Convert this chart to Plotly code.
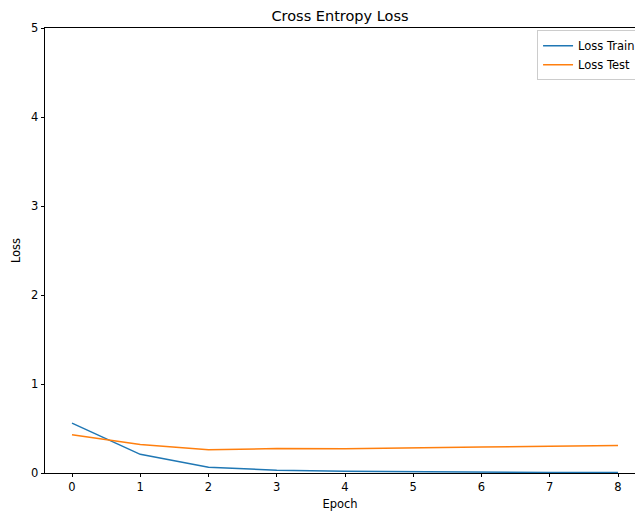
import plotly.graph_objects as go

epochs = [0, 1, 2, 3, 4, 5, 6, 7, 8]
loss_train = [0.56, 0.21, 0.064, 0.032, 0.02, 0.013, 0.009, 0.007, 0.006]
loss_test = [0.43, 0.32, 0.26, 0.275, 0.272, 0.285, 0.293, 0.30, 0.308]
x_ticks = [0, 1, 2, 3, 4, 5, 6, 7, 8]
y_ticks = [0, 1, 2, 3, 4, 5]

font = "DejaVu Sans"
fig = go.Figure()
fig.add_trace(go.Scatter(x=epochs, y=loss_train, mode="lines", name="Loss Train",
                         line=dict(color="#1f77b4", width=1.5)))
fig.add_trace(go.Scatter(x=epochs, y=loss_test, mode="lines", name="Loss Test",
                         line=dict(color="#ff7f0e", width=1.5)))

fig.update_layout(
    width=635, height=515, autosize=False,
    margin=dict(l=45, r=0, t=28, b=42, autoexpand=False),
    paper_bgcolor="white", plot_bgcolor="white",
    font=dict(family=font, size=11.5, color="black"),
    title=dict(text="Cross Entropy Loss", x=0.5, xref="paper", xanchor="center",
               y=1, yref="paper", yanchor="bottom", pad=dict(b=7),
               font=dict(family=font, size=14.5, color="black")),
    legend=dict(x=0.834, y=0.995, xanchor="left", yanchor="top",
                bgcolor="rgba(255,255,255,0.8)", bordercolor="#cccccc", borderwidth=1,
                font=dict(family=font, size=11.5, color="black"), itemwidth=30,
                tracegroupgap=0),
    showlegend=True,
)
fig.update_xaxes(
    range=[-0.3956, 8.249], tickvals=x_ticks, ticktext=[str(t) for t in x_ticks],
    showgrid=False, zeroline=False, showline=True, linecolor="black", linewidth=0.8,
    mirror=True, ticks="outside", ticklen=3.5, tickwidth=0.8, tickcolor="black",
    title=dict(text="Epoch", font=dict(family=font, size=11.5), standoff=6),
)
fig.update_yaxes(
    range=[0, 5], tickvals=y_ticks, ticktext=[str(t) for t in y_ticks],
    showgrid=False, zeroline=False, showline=True, linecolor="black", linewidth=0.8,
    mirror=False, ticks="outside", ticklen=3.5, tickwidth=0.8, tickcolor="black",
    title=dict(text="Loss", font=dict(family=font, size=11.5), standoff=7),
)

fig.write_html("out.html",
               config={"displayModeBar": False, "responsive": False},
               post_script="document.body.style.margin='0';document.body.style.overflow='hidden';")
